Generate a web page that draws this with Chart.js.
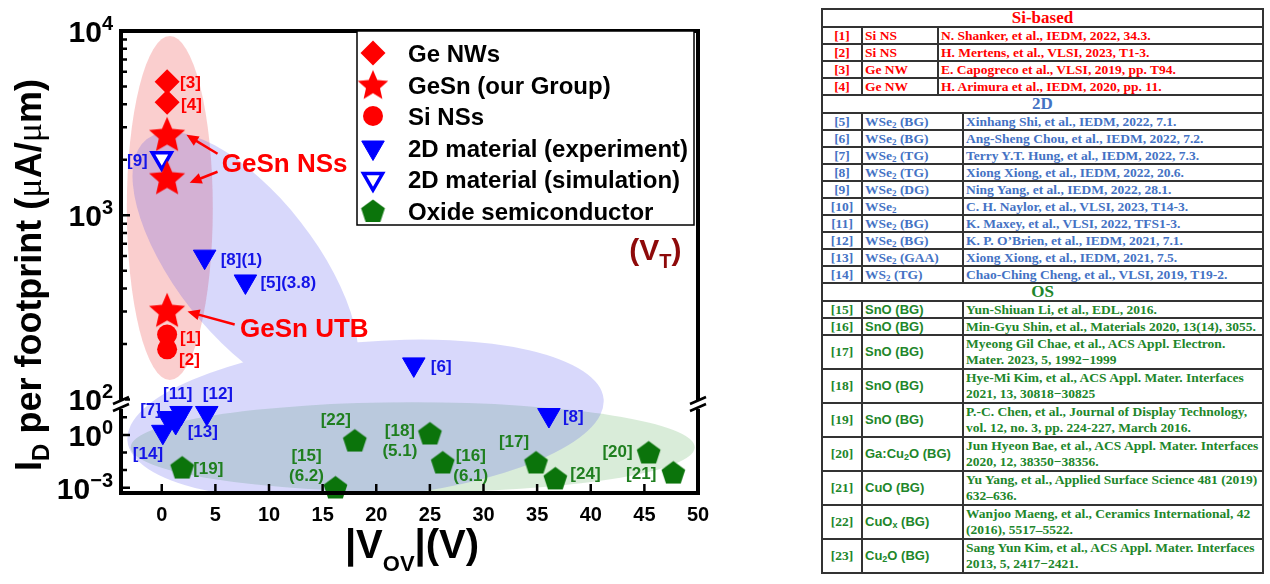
<!DOCTYPE html>
<html>
<head>
<meta charset="utf-8">
<script src="https://cdn.jsdelivr.net/npm/chart.js@4.4.1/dist/chart.umd.min.js"></script>
<style>
html, body { margin: 0; padding: 0; background: #fff; }
#plot { position: absolute; left: 0; top: 0; width: 720px; height: 584px; }
#refs { position: absolute; left: 821px; top: 8px; width: 443px; border-collapse: collapse; table-layout: fixed;
  font: bold 13.5px "Liberation Serif", "Times New Roman", serif; }
#refs td { border: 2px solid #333; padding: 0 2px; height: 15px; line-height: 15px; white-space: nowrap; overflow: hidden; }
#refs tr.hd td { text-align: center; font-size: 17px; height: 16px; line-height: 16px; }
#refs tr.two td { height: 32px; line-height: 16px; }
#refs td.n { text-align: center; }
#refs td.m { font-family: "Liberation Sans", Arial, sans-serif; font-size: 13px; }
#refs sub { font-size: 9px; vertical-align: -2px; line-height: 0; }
.si td { color: #ff0000; }
.d2 td { color: #4472c4; }
.os td { color: #21862a; }
</style>
</head>
<body>
<div id="plot"><canvas id="chart"></canvas></div>

<table id="refs">
<colgroup><col style="width:40px"><col style="width:76px"><col style="width:25px"><col></colgroup>
<tr class="hd si"><td colspan="4">Si-based</td></tr>
<tr class="si"><td class="n">[1]</td><td>Si NS</td><td colspan="2">N. Shanker, et al., IEDM, 2022, 34.3.</td></tr>
<tr class="si"><td class="n">[2]</td><td>Si NS</td><td colspan="2">H. Mertens, et al., VLSI, 2023, T1-3.</td></tr>
<tr class="si"><td class="n">[3]</td><td>Ge NW</td><td colspan="2">E. Capogreco et al., VLSI, 2019, pp. T94.</td></tr>
<tr class="si"><td class="n">[4]</td><td>Ge NW</td><td colspan="2">H. Arimura et al., IEDM, 2020, pp. 11.</td></tr>
<tr class="hd d2"><td colspan="4">2D</td></tr>
<tr class="d2"><td class="n">[5]</td><td colspan="2">WSe<sub>2</sub> (BG)</td><td>Xinhang Shi, et al., IEDM, 2022, 7.1.</td></tr>
<tr class="d2"><td class="n">[6]</td><td colspan="2">WSe<sub>2</sub> (BG)</td><td>Ang-Sheng Chou, et al., IEDM, 2022, 7.2.</td></tr>
<tr class="d2"><td class="n">[7]</td><td colspan="2">WSe<sub>2</sub> (TG)</td><td>Terry Y.T. Hung, et al., IEDM, 2022, 7.3.</td></tr>
<tr class="d2"><td class="n">[8]</td><td colspan="2">WSe<sub>2</sub> (TG)</td><td>Xiong Xiong, et al., IEDM, 2022, 20.6.</td></tr>
<tr class="d2"><td class="n">[9]</td><td colspan="2">WSe<sub>2</sub> (DG)</td><td>Ning Yang, et al., IEDM, 2022, 28.1.</td></tr>
<tr class="d2"><td class="n">[10]</td><td colspan="2">WSe<sub>2</sub></td><td>C. H. Naylor, et al., VLSI, 2023, T14-3.</td></tr>
<tr class="d2"><td class="n">[11]</td><td colspan="2">WSe<sub>2</sub> (BG)</td><td>K. Maxey, et al., VLSI, 2022, TFS1-3.</td></tr>
<tr class="d2"><td class="n">[12]</td><td colspan="2">WSe<sub>2</sub> (BG)</td><td>K. P. O’Brien, et al., IEDM, 2021, 7.1.</td></tr>
<tr class="d2"><td class="n">[13]</td><td colspan="2">WSe<sub>2</sub> (GAA)</td><td>Xiong Xiong, et al., IEDM, 2021, 7.5.</td></tr>
<tr class="d2"><td class="n">[14]</td><td colspan="2">WS<sub>2</sub> (TG)</td><td>Chao-Ching Cheng, et al., VLSI, 2019, T19-2.</td></tr>
<tr class="hd os"><td colspan="4">OS</td></tr>
<tr class="os"><td class="n">[15]</td><td class="m" colspan="2">SnO (BG)</td><td>Yun-Shiuan Li, et al., EDL, 2016.</td></tr>
<tr class="os"><td class="n">[16]</td><td class="m" colspan="2">SnO (BG)</td><td>Min-Gyu Shin, et al., Materials 2020, 13(14), 3055.</td></tr>
<tr class="os two"><td class="n">[17]</td><td class="m" colspan="2">SnO (BG)</td><td>Myeong Gil Chae, et al., ACS Appl. Electron.<br>Mater. 2023, 5, 1992−1999</td></tr>
<tr class="os two"><td class="n">[18]</td><td class="m" colspan="2">SnO (BG)</td><td>Hye-Mi Kim, et al., ACS Appl. Mater. Interfaces<br>2021, 13, 30818−30825</td></tr>
<tr class="os two"><td class="n">[19]</td><td class="m" colspan="2">SnO (BG)</td><td>P.-C. Chen, et al., Journal of Display Technology,<br>vol. 12, no. 3, pp. 224-227, March 2016.</td></tr>
<tr class="os two"><td class="n">[20]</td><td class="m" colspan="2">Ga:Cu<sub>2</sub>O (BG)</td><td>Jun Hyeon Bae, et al., ACS Appl. Mater. Interfaces<br>2020, 12, 38350−38356.</td></tr>
<tr class="os two"><td class="n">[21]</td><td class="m" colspan="2">CuO (BG)</td><td>Yu Yang, et al., Applied Surface Science 481 (2019)<br>632–636.</td></tr>
<tr class="os two"><td class="n">[22]</td><td class="m" colspan="2">CuO<sub>x</sub> (BG)</td><td>Wanjoo Maeng, et al., Ceramics International, 42<br>(2016), 5517–5522.</td></tr>
<tr class="os two"><td class="n">[23]</td><td class="m" colspan="2">Cu<sub>2</sub>O (BG)</td><td>Sang Yun Kim, et al., ACS Appl. Mater. Interfaces<br>2013, 5, 2417−2421.</td></tr>
</table>

<script>
// values (x = |Vov| in V, y = ID per footprint in uA/um)
const geNwX = [0.5, 0.5];
const geNwY = [5300, 4100];
const gesnX = [0.5, 0.5, 0.5];
const gesnY = [2750, 1600, 305];
const siNsX = [0.5, 0.5];
const siNsY = [225, 187];
const expHighX = [4.0, 7.8, 23.5];
const expHighY = [596, 437, 155];
const expLowX = [0.1, 0.6, 1.3, 1.8, 4.2, 36.1];
const expLowY = [1.5, 9.1, 5.4, 17.6, 17.6, 13.5];
const simX = [0.0];
const simY = [2040];
const oxideX = [1.9, 16.2, 18.0, 25.0, 26.2, 34.9, 36.7, 45.4, 47.7];
const oxideY = [0.015, 0.0011, 0.51, 1.29, 0.029, 0.029, 0.0036, 0.107, 0.0078];

// reference tags next to the points
const geNwRefs = [['[3]'], ['[4]']];
const siNsRefs = [['[1]'], ['[2]']];
const expHighRefs = [['[8](1)'], ['[5](3.8)'], ['[6]']];
const expLowRefs = [['[14]'], ['[7]'], ['[13]'], ['[11]'], ['[12]'], ['[8]']];
const simRefs = [['[9]']];
const oxideRefs = [['[19]'], ['[15]', '(6.2)'], ['[22]'], ['[18]', '(5.1)'], ['[16]', '(6.1)'], ['[17]'], ['[24]'], ['[20]'], ['[21]']];

// axis ticks
const yHighTicks = [100, 200, 300, 400, 500, 600, 700, 800, 900, 1000, 2000, 3000, 4000, 5000, 6000, 7000, 8000, 9000, 10000];
const yLowTicks = [0.001, 0.01, 0.1, 1, 10];
const yHighExp = { 100: '2', 1000: '3', 10000: '4' };
const yLowExp = { 1: '0', 0.001: '-3' };

const FONT = '"Liberation Sans", Arial, sans-serif';
const RED = '#ff0000', BLUE = '#0000ff', GREEN = '#0b740b';
const TXT_BLUE = '#1414e8', TXT_GREEN = '#1f7f1f';

// label placement: [dx, dy, align] from the point, in px
const tagPlace = {
  geNw: [[13, 0, 'left'], [14, 2, 'left']],
  siNs: [[13, 2, 'left'], [12, 10, 'left']],
  expHigh: [[16, 2, 'left'], [15, 1, 'left'], [17, 2, 'left']],
  expLow: [[-30, 21, 'left'], [-28, -9, 'left'], [12, 9, 'left'], [-18, -20, 'left'], [-4, -20, 'left'], [14, 1, 'left']],
  sim: [[-14, 2, 'right']],
  oxide: [[11, 1, 'left'], [-29, -32, 'center'], [-19, -21, 'center'], [-30, -3, 'center'], [28, -7, 'center'],
          [-22, -21, 'center'], [15, -5, 'left'], [-16, -1, 'right'], [-17, 1, 'right']]
};

// shaded groups: centre in data units, radii in px; shapes of one group are filled as a union
const regions = [
  { group: 'os', axis: 'yLow', x: 23.4, y: 0.2, rx: 282, ry: 45, angle: 0 },
  { group: 'si', axis: 'yUp', x: 0.75, y: 1094, rx: 43, ry: 172, angle: 0 },
  { group: 'd2', axis: 'yUp', x: 7.8, y: 537, rx: 160, ry: 70, angle: 52 },
  { group: 'd2', axis: 'yLow', x: 19.0, y: 7.1, rx: 239, ry: 78, angle: -5 }
];
const regionColors = { os: 'rgba(30,140,30,0.17)', si: 'rgba(235,50,50,0.24)', d2: 'rgba(60,60,235,0.2)' };

const pts = (xs, ys) => xs.map((x, i) => ({ x: x, y: ys[i] }));

function starCanvas(R, color) {
  const c = document.createElement('canvas');
  const s = Math.ceil(R * 2 + 4);
  c.width = c.height = s;
  const g = c.getContext('2d');
  g.fillStyle = color;
  g.beginPath();
  for (let k = 0; k < 10; k++) {
    const r = k % 2 ? R * 0.46 : R;
    const a = -Math.PI / 2 + k * Math.PI / 5;
    g.lineTo(s / 2 + r * Math.cos(a), s / 2 + 1.5 + r * Math.sin(a));
  }
  g.closePath();
  g.fill();
  return c;
}
function pentagonCanvas(R, color) {
  const c = document.createElement('canvas');
  const s = Math.ceil(R * 2 + 4);
  c.width = c.height = s;
  const g = c.getContext('2d');
  g.fillStyle = color;
  g.beginPath();
  for (let k = 0; k < 5; k++) {
    const a = -Math.PI / 2 + k * 2 * Math.PI / 5;
    g.lineTo(s / 2 + R * Math.cos(a), s / 2 + 1.5 + R * Math.sin(a));
  }
  g.closePath();
  g.fill();
  return c;
}
const bigStar = starCanvas(19, RED);
const smallStar = starCanvas(16, RED);
const pentagon = pentagonCanvas(12.5, GREEN);

function rich(ctx, parts, x, y, align) {
  let w = 0;
  parts.forEach(p => {
    ctx.font = (p.weight || 'bold') + ' ' + p.size + 'px ' + (p.family || FONT);
    p.w = ctx.measureText(p.t).width;
    w += p.w;
  });
  let cx = align === 'center' ? x - w / 2 : align === 'right' ? x - w : x;
  ctx.textAlign = 'left';
  ctx.textBaseline = 'alphabetic';
  parts.forEach(p => {
    ctx.font = (p.weight || 'bold') + ' ' + p.size + 'px ' + (p.family || FONT);
    ctx.fillText(p.t, cx, y + (p.dy || 0));
    cx += p.w;
  });
}

function arrow(ctx, x1, y1, x2, y2) {
  const a = Math.atan2(y2 - y1, x2 - x1), hl = 12, hw = 5.5;
  ctx.beginPath();
  ctx.moveTo(x1, y1);
  ctx.lineTo(x2 - hl * 0.8 * Math.cos(a), y2 - hl * 0.8 * Math.sin(a));
  ctx.stroke();
  ctx.beginPath();
  ctx.moveTo(x2, y2);
  ctx.lineTo(x2 - hl * Math.cos(a) + hw * Math.sin(a), y2 - hl * Math.sin(a) - hw * Math.cos(a));
  ctx.lineTo(x2 - hl * Math.cos(a) - hw * Math.sin(a), y2 - hl * Math.sin(a) + hw * Math.cos(a));
  ctx.closePath();
  ctx.fill();
}

// free annotations, anchored in data units
const notes = [
  { axis: 'yUp', x: 5.6, y: 1920, color: RED, parts: [{ t: 'GeSn NSs', size: 26 }] },
  { axis: 'yUp', x: 7.3, y: 244, color: RED, parts: [{ t: 'GeSn UTB', size: 26 }] },
  { axis: 'yUp', x: 43.6, y: 640, color: '#8e0a0a', parts: [{ t: '(V', size: 30 }, { t: 'T', size: 20, dy: 8 }, { t: ')', size: 30 }] }
];
const arrows = [
  { axis: 'yUp', from: [5.2, 2155], to: [2.3, 2730] },
  { axis: 'yUp', from: [5.2, 1722], to: [2.6, 1500] },
  { axis: 'yUp', from: [6.8, 255], to: [2.4, 300] }
];

const decor = {
  id: 'decor',
  beforeDatasetsDraw(chart) {
    const ctx = chart.ctx, ca = chart.chartArea, sx = chart.scales.x;
    ctx.save();
    ctx.beginPath();
    ctx.rect(ca.left, ca.top, ca.right - ca.left, ca.bottom - ca.top);
    ctx.clip();
    Object.keys(regionColors).forEach(g => {
      ctx.beginPath();
      regions.filter(e => e.group === g).forEach(e => {
        const cx = sx.getPixelForValue(e.x), cy = chart.scales[e.axis].getPixelForValue(e.y);
        ctx.moveTo(cx + e.rx * Math.cos(e.angle * Math.PI / 180), cy + e.rx * Math.sin(e.angle * Math.PI / 180));
        ctx.ellipse(cx, cy, e.rx, e.ry, e.angle * Math.PI / 180, 0, 2 * Math.PI);
      });
      ctx.fillStyle = regionColors[g];
      ctx.fill('nonzero');
    });
    ctx.restore();
  },
  afterDatasetsDraw(chart) {
    const ctx = chart.ctx, sx = chart.scales.x;
    ctx.save();
    // point tags
    chart.data.datasets.forEach((ds, di) => {
      if (!ds.refs) return;
      const meta = chart.getDatasetMeta(di);
      ds.refs.forEach((lines, i) => {
        const el = meta.data[i];
        const [dx, dy, align] = ds.place[i];
        ctx.fillStyle = ds.tagColor;
        lines.forEach((t, k) => {
          rich(ctx, [{ t: t, size: 17 }], el.x + dx, el.y + dy + 6 + k * 20, align);
        });
      });
    });
    // annotations and arrows
    notes.forEach(n => {
      ctx.fillStyle = n.color;
      rich(ctx, n.parts, sx.getPixelForValue(n.x), chart.scales[n.axis].getPixelForValue(n.y) + 9, 'left');
    });
    ctx.strokeStyle = RED;
    ctx.fillStyle = RED;
    ctx.lineWidth = 2.5;
    arrows.forEach(a => {
      const ys = chart.scales[a.axis];
      arrow(ctx, sx.getPixelForValue(a.from[0]), ys.getPixelForValue(a.from[1]),
        sx.getPixelForValue(a.to[0]), ys.getPixelForValue(a.to[1]));
    });
    ctx.restore();
  },
  afterDraw(chart) {
    const ctx = chart.ctx, ca = chart.chartArea;
    const sx = chart.scales.x, yUp = chart.scales.yUp, yLow = chart.scales.yLow;
    ctx.save();
    // frame
    ctx.strokeStyle = '#000';
    ctx.lineWidth = 4;
    ctx.strokeRect(ca.left, ca.top, ca.right - ca.left, ca.bottom - ca.top);
    // inward tick marks
    ctx.lineWidth = 2.5;
    ctx.beginPath();
    yUp.ticks.forEach(t => {
      const y = yUp.getPixelForValue(t.value);
      const len = yHighExp[t.value] ? 9 : 6;
      ctx.moveTo(ca.left, y); ctx.lineTo(ca.left + len, y);
    });
    yLow.ticks.forEach(t => {
      const y = yLow.getPixelForValue(t.value);
      const len = yLowExp[t.value] ? 9 : 6;
      ctx.moveTo(ca.left, y); ctx.lineTo(ca.left + len, y);
    });
    sx.ticks.forEach(t => {
      const x = sx.getPixelForValue(t.value);
      ctx.moveTo(x, ca.bottom); ctx.lineTo(x, ca.bottom - 9);
    });
    ctx.stroke();
    // axis breaks
    const by = yUp.bottom;
    [ca.left, ca.right].forEach(bx => {
      ctx.fillStyle = '#fff';
      ctx.fillRect(bx - 4, by - 5, 8, 9);
      ctx.lineWidth = 2.5;
      ctx.beginPath();
      ctx.moveTo(bx - 8, by - 1); ctx.lineTo(bx + 8, by - 8);
      ctx.moveTo(bx - 8, by + 6); ctx.lineTo(bx + 8, by - 1);
      ctx.stroke();
    });
    // y tick labels 10^n
    ctx.fillStyle = '#000';
    const yLabel = (scale, v, e) => {
      const y = scale.getPixelForValue(v);
      rich(ctx, [{ t: '10', size: 30 }, { t: e.replace('-', '−'), size: 20, dy: -12 }], ca.left - 8, y + 11, 'right');
    };
    Object.keys(yHighExp).forEach(v => yLabel(yUp, +v, yHighExp[v]));
    Object.keys(yLowExp).forEach(v => yLabel(yLow, +v, yLowExp[v]));
    // legend
    const lx = ca.left + 236, ly = ca.top, lw = ca.right - 4 - lx, lh = 194;
    ctx.fillStyle = '#fff';
    ctx.fillRect(lx, ly, lw, lh);
    ctx.lineWidth = 1.5;
    ctx.strokeRect(lx, ly, lw, lh);
    let row = 0;
    chart.data.datasets.forEach(ds => {
      if (!ds.legendText) return;
      const y = ly + 22 + row * 31.5;
      ctx.fillStyle = ds.backgroundColor;
      ctx.strokeStyle = ds.borderColor;
      ctx.lineWidth = ds.borderWidth || 0;
      Chart.helpers.drawPoint(ctx, {
        pointStyle: ds.legendStyle || ds.pointStyle, radius: ds.pointRadius,
        rotation: ds.rotation || 0, borderWidth: ds.borderWidth || 0
      }, lx + 16, y);
      ctx.fillStyle = '#000';
      rich(ctx, [{ t: ds.legendText, size: 24 }], lx + 51, y + 9, 'left');
      row++;
    });
    // axis titles
    ctx.fillStyle = '#000';
    rich(ctx, [{ t: '|V', size: 40 }, { t: 'OV', size: 22, dy: 13 }, { t: '|(V)', size: 40 }], 412, 558, 'center');
    ctx.translate(41, 275);
    ctx.rotate(-Math.PI / 2);
    rich(ctx, [
      { t: 'I', size: 36 }, { t: 'D', size: 24, dy: 8 }, { t: ' per footprint (', size: 36 },
      { t: 'μ', size: 36, weight: 'normal', family: '"Liberation Serif", serif' }, { t: 'A/', size: 36 },
      { t: 'μ', size: 36, weight: 'normal', family: '"Liberation Serif", serif' }, { t: 'm)', size: 36 }
    ], 0, 0, 'center');
    ctx.restore();
  }
};

const tri = { pointStyle: 'triangle', rotation: 180, pointRadius: 13, backgroundColor: BLUE, borderColor: BLUE, borderWidth: 1 };

new Chart(document.getElementById('chart'), {
  type: 'scatter',
  data: {
    datasets: [
      { legendText: 'Ge NWs', data: pts(geNwX, geNwY), yAxisID: 'yUp', pointStyle: 'rectRot', pointRadius: 12.5,
        backgroundColor: RED, borderColor: RED, borderWidth: 0, refs: geNwRefs, place: tagPlace.geNw, tagColor: RED },
      { legendText: 'GeSn (our Group)', data: pts(gesnX, gesnY), yAxisID: 'yUp', pointStyle: bigStar, legendStyle: smallStar,
        pointRadius: 19, backgroundColor: RED, borderColor: RED, borderWidth: 0 },
      { legendText: 'Si NSs', data: pts(siNsX, siNsY), yAxisID: 'yUp', pointStyle: 'circle', pointRadius: 10,
        backgroundColor: RED, borderColor: RED, borderWidth: 0, refs: siNsRefs, place: tagPlace.siNs, tagColor: RED },
      Object.assign({ legendText: '2D material (experiment)', data: pts(expHighX, expHighY), yAxisID: 'yUp',
        refs: expHighRefs, place: tagPlace.expHigh, tagColor: TXT_BLUE }, tri),
      Object.assign({ data: pts(expLowX, expLowY), yAxisID: 'yLow',
        refs: expLowRefs, place: tagPlace.expLow, tagColor: TXT_BLUE }, tri),
      { legendText: '2D material (simulation)', data: pts(simX, simY), yAxisID: 'yUp', pointStyle: 'triangle', rotation: 180,
        pointRadius: 11, backgroundColor: '#fff', borderColor: BLUE, borderWidth: 3.5,
        refs: simRefs, place: tagPlace.sim, tagColor: TXT_BLUE },
      { legendText: 'Oxide semiconductor', data: pts(oxideX, oxideY), yAxisID: 'yLow', pointStyle: pentagon, pointRadius: 12.5,
        backgroundColor: GREEN, borderColor: GREEN, borderWidth: 0, refs: oxideRefs, place: tagPlace.oxide, tagColor: TXT_GREEN }
    ].map(d => Object.assign({ clip: false }, d))
  },
  options: {
    responsive: true,
    maintainAspectRatio: false,
    devicePixelRatio: 1,
    animation: false,
    events: [],
    layout: { padding: { left: 121, top: 31, right: 22, bottom: 59 } },
    plugins: { legend: { display: false }, tooltip: { enabled: false } },
    scales: {
      x: {
        type: 'linear', min: -3.8, max: 50,
        ticks: { stepSize: 5, includeBounds: false, maxRotation: 0, padding: 10, color: '#000',
          font: { family: FONT, size: 20, weight: 'bold' } },
        grid: { display: false, drawTicks: false },
        border: { display: false },
        afterFit(s) { s.height = 32; }
      },
      yLow: {
        type: 'logarithmic', position: 'left', stack: 'y', stackWeight: 88, min: 0.0005, max: 50,
        afterBuildTicks(s) { s.ticks = yLowTicks.map(v => ({ value: v })); },
        ticks: { display: false },
        grid: { display: false, drawTicks: false },
        border: { display: false },
        afterFit(s) { s.width = 0; }
      },
      yUp: {
        type: 'logarithmic', position: 'left', stack: 'y', stackWeight: 374, min: 93.3, max: 10000,
        afterBuildTicks(s) { s.ticks = yHighTicks.map(v => ({ value: v })); },
        ticks: { display: false },
        grid: { display: false, drawTicks: false },
        border: { display: false },
        afterFit(s) { s.width = 0; }
      }
    }
  },
  plugins: [decor]
});
</script>
</body>
</html>
